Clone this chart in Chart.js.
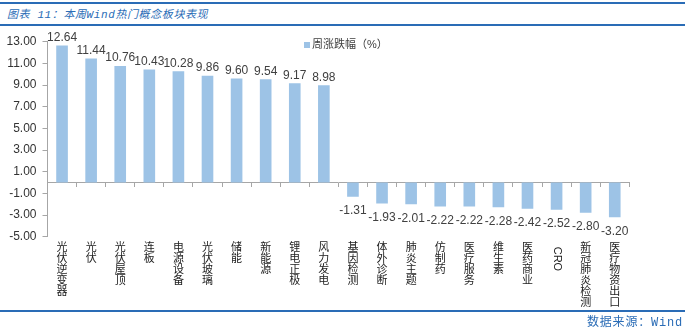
<!DOCTYPE html>
<html>
<head>
<meta charset="utf-8">
<script src="https://cdn.jsdelivr.net/npm/chart.js@4/dist/chart.umd.min.js"></script>
<style>
    body { margin: 0; background: #fff; }
    #wrap { position: relative; width: 687px; height: 334px; overflow: hidden; }
    #chart { position: absolute; left: 0; top: 0; }
    .rule { position: absolute; left: 0; width: 685px; height: 2px; background: #2a6cb6; }
    #title {
        position: absolute; left: 7px; top: 6px;
        font: italic 11px/18px "Liberation Mono", "Noto Sans CJK SC", monospace;
        letter-spacing: 0.6px; color: #2a6cb6; white-space: nowrap;
    }
    #source {
        position: absolute; right: 4px; top: 315px;
        font: 12px/16px "Liberation Mono", "Noto Sans CJK SC", monospace;
        letter-spacing: 0.8px; color: #2a6cb6; white-space: nowrap;
    }
</style>
</head>
<body>
<div id="wrap">
    <div class="rule" style="top:2px"></div>
    <div id="title">图表 11：本周Wind热门概念板块表现</div>
    <div class="rule" style="top:24px"></div>
    <canvas id="chart" width="687" height="334"></canvas>
    <div class="rule" style="top:310px"></div>
    <div id="source">数据来源：Wind</div>
</div>
<script>
const categories = ['光伏逆变器', '光伏', '光伏屋顶', '连板', '电源设备', '光伏玻璃', '储能', '新能源', '锂电正极', '风力发电',
    '基因检测', '体外诊断', '肺炎主题', '仿制药', '医疗服务', '维生素', '医药商业', 'CRO', '新冠肺炎检测', '医疗物资出口'];
const weeklyChange = [12.64, 11.44, 10.76, 10.43, 10.28, 9.86, 9.60, 9.54, 9.17, 8.98,
    -1.31, -1.93, -2.01, -2.22, -2.22, -2.28, -2.42, -2.52, -2.80, -3.20];
const seriesName = '周涨跌幅（%）';
const yMin = -5;
const yMax = 13;
const yStep = 2;

const barColor = '#9dc3e6';
const axisColor = '#a6a6a6';
const cjkFont = '"Liberation Sans", "Noto Sans CJK SC", sans-serif';

Chart.defaults.font.family = cjkFont;

// latin-only labels (CRO) are drawn turned sideways instead of stacked
const isLatin = s => /^[A-Za-z0-9]+$/.test(s);

// value above positive bars, below negative ones
const valueLabels = {
    id: 'valueLabels',
    afterDatasetsDraw(chart) {
        const ctx = chart.ctx;
        const meta = chart.getDatasetMeta(0);
        ctx.save();
        ctx.font = '12px ' + cjkFont;
        ctx.fillStyle = '#404040';
        ctx.textAlign = 'center';
        meta.data.forEach((bar, i) => {
            const v = weeklyChange[i];
            if (v >= 0) {
                ctx.textBaseline = 'alphabetic';
                ctx.fillText(v.toFixed(2), bar.x, bar.y - 4.5);
            } else {
                ctx.textBaseline = 'top';
                ctx.fillText(v.toFixed(2), bar.x, bar.y + 8);
            }
        });
        ctx.restore();
    }
};

// small legend sitting inside the plot, plus the sideways latin label
const extras = {
    id: 'extras',
    afterDraw(chart) {
        const ctx = chart.ctx;
        ctx.save();
        ctx.fillStyle = barColor;
        ctx.fillRect(304, 42, 6, 6);
        ctx.font = '11px ' + cjkFont;
        ctx.fillStyle = '#404040';
        ctx.textAlign = 'left';
        ctx.textBaseline = 'middle';
        ctx.fillText(chart.data.datasets[0].label, 312, 45);

        const x2 = chart.scales.x2;
        ctx.font = '11px ' + cjkFont;
        ctx.fillStyle = '#222';
        categories.forEach((c, i) => {
            if (!isLatin(c)) return;
            ctx.save();
            ctx.translate(x2.getPixelForTick(i), x2.top + 10);
            ctx.rotate(Math.PI / 2);
            ctx.textAlign = 'left';
            ctx.textBaseline = 'middle';
            ctx.fillText(c, 0, 0);
            ctx.restore();
        });
        ctx.restore();
    }
};

const ctx = document.getElementById('chart').getContext('2d');
new Chart(ctx, {
    type: 'bar',
    data: {
        labels: categories,
        datasets: [{
            label: seriesName,
            data: weeklyChange,
            backgroundColor: barColor,
            borderWidth: 0,
            barPercentage: 0.4,
            categoryPercentage: 1.0
        }]
    },
    options: {
        responsive: false,
        animation: false,
        layout: { padding: { top: 41.7, right: 57.7, bottom: 0, left: 0 } },
        plugins: {
            legend: { display: false },
            tooltip: { enabled: false }
        },
        scales: {
            // category line crossing at zero
            x: {
                type: 'category',
                position: { y: 0 },
                offset: true,
                z: 1,
                grid: {
                    offset: true,
                    drawOnChartArea: false,
                    drawTicks: true,
                    tickLength: 4,
                    color: axisColor
                },
                border: { color: axisColor, width: 1 },
                ticks: { display: false }
            },
            // stacked labels at the bottom
            x2: {
                type: 'category',
                position: 'bottom',
                labels: categories,
                offset: true,
                grid: { display: false, drawTicks: false },
                border: { display: false },
                afterFit: scale => { scale.height = 97.3; },
                ticks: {
                    autoSkip: false,
                    maxRotation: 0,
                    minRotation: 0,
                    padding: 6,
                    color: '#222',
                    font: { size: 11, lineHeight: 1.0 },
                    callback: function (value, i) {
                        const c = categories[i];
                        return isLatin(c) ? '' : c.split('');
                    }
                }
            },
            y: {
                min: yMin,
                max: yMax,
                afterFit: scale => { scale.width = 47.5; },
                grid: {
                    drawOnChartArea: false,
                    drawTicks: true,
                    tickLength: 5,
                    color: axisColor
                },
                border: { color: axisColor, width: 1 },
                ticks: {
                    stepSize: yStep,
                    padding: 6,
                    color: '#333',
                    font: { size: 12 },
                    callback: v => v.toFixed(2)
                }
            }
        }
    },
    plugins: [valueLabels, extras]
});
</script>
</body>
</html>
